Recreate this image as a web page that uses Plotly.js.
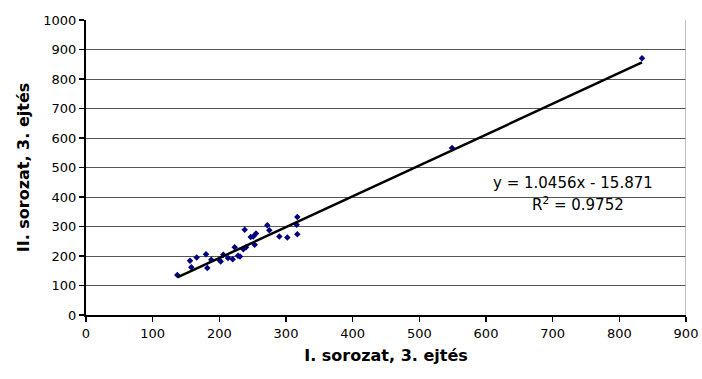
<!DOCTYPE html>
<html>
<head>
<meta charset="utf-8">
<script src="https://cdn.plot.ly/plotly-3.0.1.min.js"></script>
<style>html,body{margin:0;padding:0;background:#fff;}#chart{width:702px;height:379px;}</style>
</head>
<body>
<div id="chart"></div>
<script>
var xValues = [137,156,158,166,180,182,188,200,202,206,213,220,223,228,231,236,238,240,247,251,253,255,272,275,290,302,317,316,317,549,834];
var yValues = [136,184,162,195,206,159,187,187,181,204,193,189,230,201,198,223,289,230,264,266,238,276,304,287,266,263,274,306,332,566,870];
var slope = 1.0456;
var intercept = -15.871;
var eqText = "y = 1.0456x - 15.871";
var r2Text = "R<sup>2</sup> = 0.9752";
var xTicks = [0,100,200,300,400,500,600,700,800,900];
var yTicks = [0,100,200,300,400,500,600,700,800,900,1000];

var xMin = Math.min.apply(null, xValues), xMax = Math.max.apply(null, xValues);
var font = "DejaVu Sans, Verdana, sans-serif";

var traces = [
  {x: xValues, y: yValues, type: 'scatter', mode: 'markers',
   marker: {symbol: 'diamond', size: 5, color: '#000080'}, hoverinfo: 'none'},
  {x: [xMin, xMax], y: [slope*xMin+intercept, slope*xMax+intercept], type: 'scatter', mode: 'lines',
   line: {color: '#000000', width: 2.5}, hoverinfo: 'none'}
];

var layout = {
  width: 702, height: 379,
  margin: {l: 86, r: 16, t: 20, b: 64},
  paper_bgcolor: '#fff', plot_bgcolor: '#fff',
  showlegend: false,
  font: {family: font, size: 13, color: '#000'},
  xaxis: {range: [0, 900], tickvals: xTicks, ticktext: xTicks.map(String),
    showgrid: false, zeroline: false, showline: true, linecolor: '#000', linewidth: 2,
    ticks: 'outside', ticklen: 5, tickwidth: 1.5, tickcolor: '#000',
    tickfont: {family: font, size: 13, color: '#000'},
    title: {text: '<b>I. sorozat, 3. ejtés</b>', font: {family: font, size: 16, color: '#000'}, standoff: 10}},
  yaxis: {range: [0, 1000], tickvals: yTicks, ticktext: yTicks.map(String),
    showgrid: true, gridcolor: '#555', gridwidth: 1, zeroline: false,
    showline: true, linecolor: '#000', linewidth: 2,
    ticks: 'outside', ticklen: 5, tickwidth: 1.5, tickcolor: '#000',
    tickfont: {family: font, size: 13, color: '#000'},
    title: {text: '<b>II. sorozat, 3. ejtés</b>', font: {family: font, size: 16, color: '#000'}, standoff: 10}},
  shapes: [
    {type: 'line', xref: 'x', yref: 'y', x0: 900, x1: 900, y0: 0, y1: 1000, line: {color: '#aaa', width: 1.5}}
  ],
  annotations: [
    {x: 730, y: 449, xref: 'x', yref: 'y', text: eqText, showarrow: false, font: {family: font, size: 15, color: '#000'}},
    {x: 738, y: 376, xref: 'x', yref: 'y', text: r2Text, showarrow: false, font: {family: font, size: 15, color: '#000'}}
  ]
};

Plotly.newPlot('chart', traces, layout, {displayModeBar: false, staticPlot: true});
</script>
</body>
</html>
